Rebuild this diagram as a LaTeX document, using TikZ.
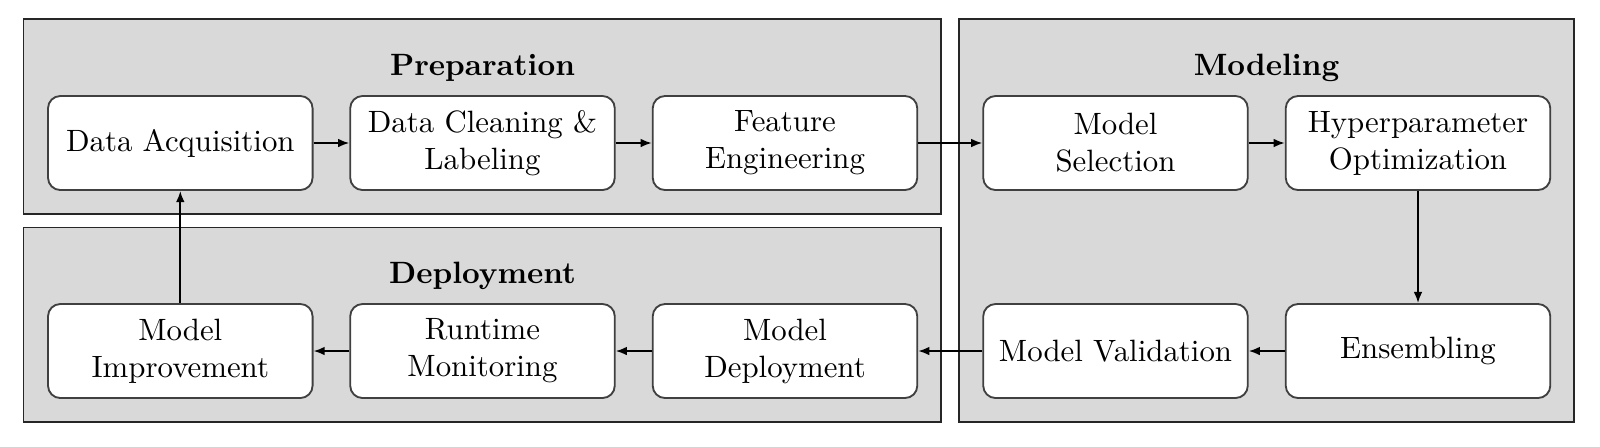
\documentclass[tikz,border=0pt]{standalone}
\usetikzlibrary{arrows.meta}
\definecolor{panelgray}{HTML}{D9D9D9}
\definecolor{boxborder}{HTML}{404040}
\begin{document}
\begin{tikzpicture}[x=0.3243pt,y=-0.3243pt,
  panel/.style={draw=black!85,fill=panelgray,line width=0.6pt},
  stepbox/.style={draw=boxborder,fill=white,rounded corners=4pt,line width=0.6pt,
    minimum width=85.8pt,minimum height=30.5pt,align=center,inner sep=2pt},
  title/.style={font=\bfseries,anchor=base},
  flow/.style={-{Latex[length=3.6pt,width=2.8pt]},line width=0.6pt}]
\useasboundingbox (0,0) rectangle (1600,446);
\fill[white] (0,0) rectangle (1600,446);
% panels
\draw[panel] (23.5,19) rectangle (941,214);
\draw[panel] (23.5,227.5) rectangle (941,422);
\draw[panel] (959,19) rectangle (1574,422);
% titles
\node[title] (tprep) at (482.5,75) {Preparation};
\node[title] (tdep) at (482.5,283.5) {Deployment};
\node[title] (tmod) at (1266.5,75) {Modeling};
% row 1
\node[stepbox] (da) at (180.3,143) {Data Acquisition};
\node[stepbox] (dc) at (482.5,143) {Data Cleaning \&\\Labeling};
\node[stepbox] (fe) at (785,143) {Feature\\Engineering};
\node[stepbox] (ms) at (1115.5,143) {Model\\Selection};
\node[stepbox] (ho) at (1418,143) {Hyperparameter\\Optimization};
% row 2
\node[stepbox] (mi) at (180.3,351) {Model\\Improvement};
\node[stepbox] (rm) at (482.5,351) {Runtime\\Monitoring};
\node[stepbox] (md) at (785,351) {Model\\Deployment};
\node[stepbox] (mv) at (1115.5,351) {Model Validation};
\node[stepbox] (en) at (1418,351) {Ensembling};
% connectors
\draw[flow] (da) -- (dc);
\draw[flow] (dc) -- (fe);
\draw[flow] (fe) -- (ms);
\draw[flow] (ms) -- (ho);
\draw[flow] (ho) -- (en);
\draw[flow] (en) -- (mv);
\draw[flow] (mv) -- (md);
\draw[flow] (md) -- (rm);
\draw[flow] (rm) -- (mi);
\draw[flow] (mi) -- (da);
\end{tikzpicture}
\end{document}
